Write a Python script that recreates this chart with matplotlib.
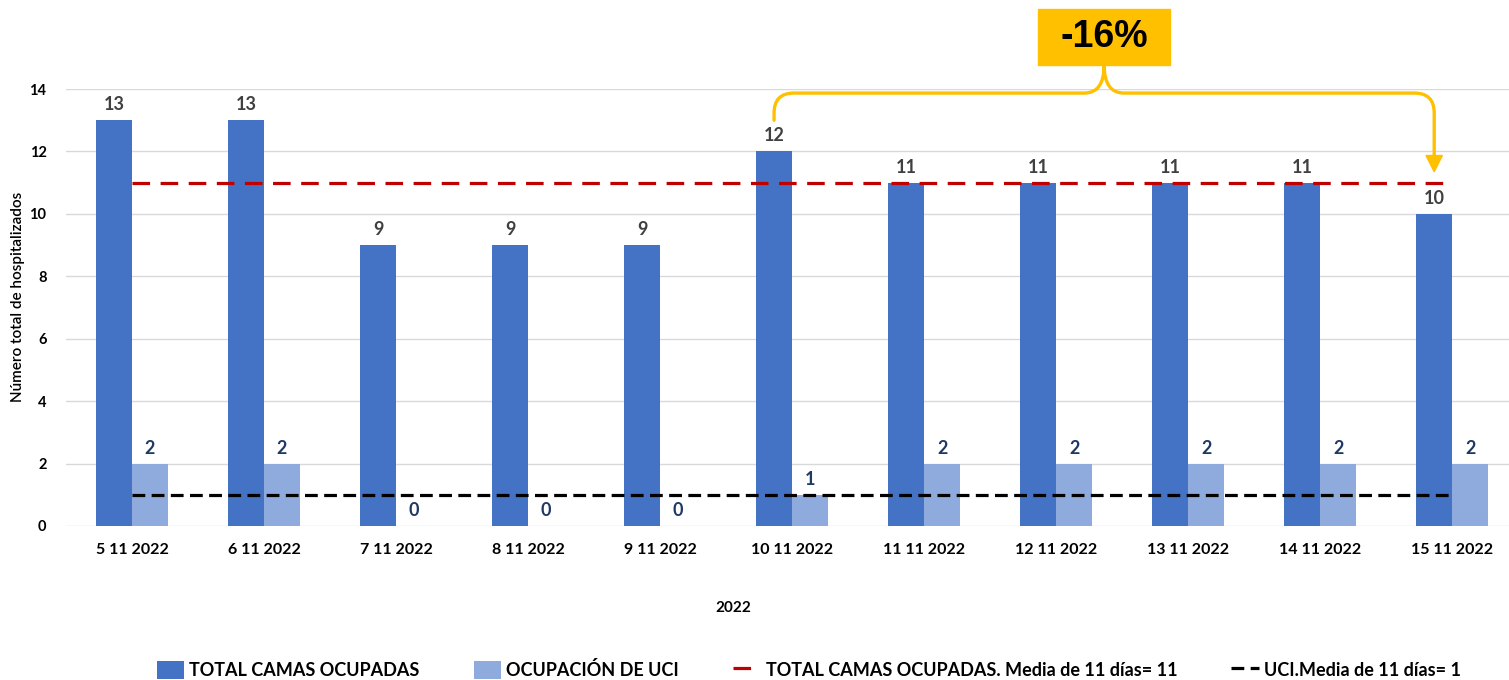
import matplotlib.pyplot as plt
from matplotlib.path import Path
from matplotlib.patches import PathPatch, Rectangle, Polygon

plt.rcParams['font.family'] = ['Lato', 'DejaVu Sans']

fechas = ['5 11 2022', '6 11 2022', '7 11 2022', '8 11 2022', '9 11 2022', '10 11 2022',
          '11 11 2022', '12 11 2022', '13 11 2022', '14 11 2022', '15 11 2022']
total_camas = [13, 13, 9, 9, 9, 12, 11, 11, 11, 11, 10]
ocupacion_uci = [2, 2, 0, 0, 0, 1, 2, 2, 2, 2, 2]
media_total = [11] * 11
media_uci = [1] * 11
variacion = '-16%'

AZUL = '#4472C4'
AZUL_CLARO = '#8FAADC'
AMARILLO = '#FFC000'

fig = plt.figure(figsize=(15.09, 6.8), dpi=100)
ax = fig.add_axes([0.0437, 0.2265, 0.9563, 0.6426])

x = list(range(len(fechas)))
w = 0.273
b1 = ax.bar([i - w / 2 for i in x], total_camas, w, color=AZUL, label='TOTAL CAMAS OCUPADAS', zorder=2)
b2 = ax.bar([i + w / 2 for i in x], ocupacion_uci, w, color=AZUL_CLARO, label='OCUPACIÓN DE UCI', zorder=2)
l1, = ax.plot(x, media_total, color='#C00000', lw=2.3, dashes=(5.5, 3.3),
              label='TOTAL CAMAS OCUPADAS. Media de 11 días= 11', zorder=3)
l2, = ax.plot(x, media_uci, color='black', lw=2.3, dashes=(4, 2),
              label='UCI.Media de 11 días= 1', zorder=3)

for bar, v in zip(b1, total_camas):
    ax.annotate(str(v), (bar.get_x() + bar.get_width() / 2, v), xytext=(0, 5),
                textcoords='offset points', ha='center', va='bottom',
                fontsize=13, fontweight='bold', color='#404040')
for bar, v in zip(b2, ocupacion_uci):
    ax.annotate(str(v), (bar.get_x() + bar.get_width() / 2, v), xytext=(0, 5),
                textcoords='offset points', ha='center', va='bottom',
                fontsize=13, fontweight='bold', color='#1F3864')

ax.set_xlim(-0.5, 10.43)
ax.set_ylim(0, 14)
ax.set_yticks(range(0, 15, 2))
ax.set_xticks(x)
ax.set_xticklabels(fechas, fontsize=11.5, fontweight='bold')
ax.tick_params(axis='x', length=0, pad=12)
ax.tick_params(axis='y', length=0, pad=14, labelsize=10.5)
for t in ax.get_yticklabels():
    t.set_fontweight('bold')
ax.grid(axis='y', color='#D9D9D9', lw=1, zorder=0)
for s in ax.spines.values():
    s.set_visible(False)

fig.text(18 / 1509, 0.563, 'Número total de hospitalizados', rotation=90,
         ha='center', va='center', fontsize=11, fontweight='semibold')
fig.text(733 / 1509, 1 - 608 / 680, '2022', ha='center', va='center',
         fontsize=11, fontweight='bold')

# llave con flecha entre el 10 y el 15 de noviembre
xa = 5 - w / 2
xb = 10 - w / 2
xm = (xa + xb) / 2
y0, ytop, ycaja, yfin = 13.0, 13.87, 14.77, 11.35
rx, ry = 0.15, 0.64
verts = [(xa, y0), (xa, ytop - ry), (xa, ytop), (xa + rx, ytop), (xm - rx, ytop),
         (xm, ytop), (xm, ycaja),
         (xm, ycaja), (xm, ytop), (xm + rx, ytop), (xb - rx, ytop),
         (xb, ytop), (xb, ytop - ry), (xb, yfin + 0.45)]
codes = [Path.MOVETO, Path.LINETO, Path.CURVE3, Path.CURVE3, Path.LINETO,
         Path.CURVE3, Path.CURVE3,
         Path.MOVETO, Path.CURVE3, Path.CURVE3, Path.LINETO,
         Path.CURVE3, Path.CURVE3, Path.LINETO]
ax.add_patch(PathPatch(Path(verts, codes), fill=False, edgecolor=AMARILLO, lw=2.4,
                       capstyle='round', clip_on=False, zorder=4))
ax.add_patch(Polygon([(xb - 0.062, yfin + 0.52), (xb + 0.062, yfin + 0.52), (xb, yfin)],
                     closed=True, color=AMARILLO, clip_on=False, zorder=4))
ax.add_patch(Rectangle((xm - 0.5, ycaja), 1.0, 1.8, color=AMARILLO, clip_on=False, zorder=4))
ax.text(xm, ycaja + 0.9, variacion, ha='center', va='center', fontsize=27,
        fontweight='bold', family=['Liberation Sans', 'DejaVu Sans'], zorder=5)

fig.legend(handles=[b1, b2, l1, l2], loc='center', bbox_to_anchor=(0.536, 1 - 670 / 680),
           ncol=4, frameon=False, prop={'size': 13, 'weight': 'bold'},
           handlelength=1.5, handleheight=1.2, columnspacing=3.0, handletextpad=0.3)

fig.savefig('out.png', dpi=100)
